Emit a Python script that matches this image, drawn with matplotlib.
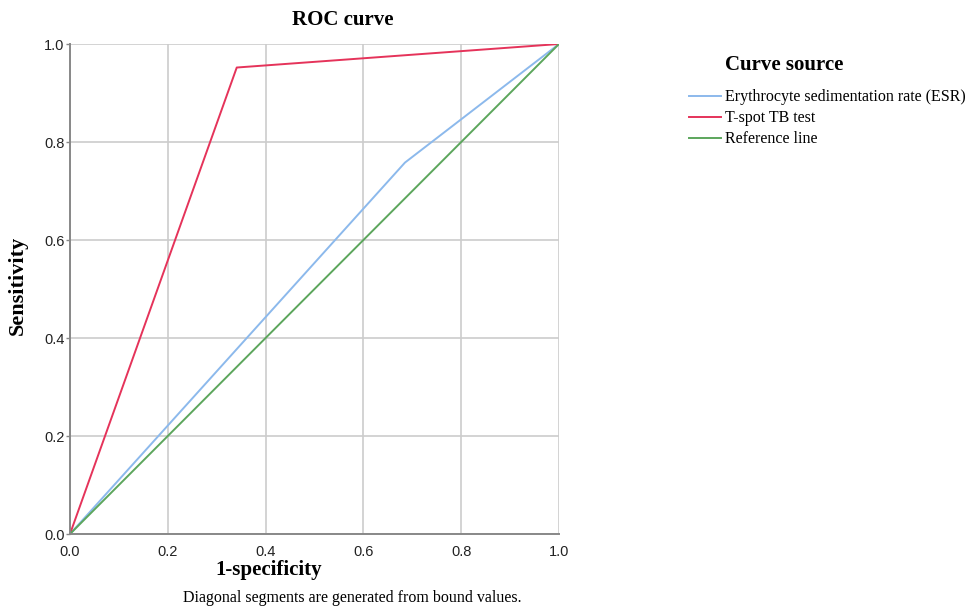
import matplotlib.pyplot as plt

# ROC curve points
esr_fpr = [0.0, 0.685, 1.0]
esr_tpr = [0.0, 0.758, 1.0]
tspot_fpr = [0.0, 0.341, 1.0]
tspot_tpr = [0.0, 0.952, 1.0]
ref_fpr = [0.0, 1.0]
ref_tpr = [0.0, 1.0]

labels = ["Erythrocyte sedimentation rate (ESR)", "T-spot TB test", "Reference line"]
colors = ["#8cb9ec", "#e5335a", "#5ca65c"]
ticks = [0.0, 0.2, 0.4, 0.6, 0.8, 1.0]

serif = "Liberation Serif"
sans = "Liberation Sans"

fig = plt.figure(figsize=(9.68, 6.07), dpi=100)
ax = fig.add_axes([70 / 968, 73 / 607, 489 / 968, 490 / 607])

ax.plot(esr_fpr, esr_tpr, color=colors[0], lw=1.4, label=labels[0])
ax.plot(tspot_fpr, tspot_tpr, color=colors[1], lw=1.4, label=labels[1])
ax.plot(ref_fpr, ref_tpr, color=colors[2], lw=1.4, label=labels[2])

ax.set_xlim(0, 1)
ax.set_ylim(0, 1)
ax.set_xticks(ticks)
ax.set_yticks(ticks)
ax.set_xticklabels([f"{t:.1f}" for t in ticks], fontfamily=sans, fontsize=10.5, color="#222222")
ax.set_yticklabels([f"{t:.1f}" for t in ticks], fontfamily=sans, fontsize=10.5, color="#222222")
ax.tick_params(axis="y", length=3, width=1, color="#888888", pad=1)
ax.tick_params(axis="x", length=0, pad=8)
ax.grid(True, color="#cccccc", lw=1.2)
ax.set_axisbelow(True)

for side in ["top", "right"]:
    ax.spines[side].set_visible(False)
for side in ["left", "bottom"]:
    ax.spines[side].set_color("#888888")
    ax.spines[side].set_linewidth(1.4)

fig.text(343 / 968, 1 - 20 / 607, "ROC curve", ha="center", va="center",
         fontfamily=serif, fontweight="bold", fontsize=15)
fig.text(18 / 968, 1 - 285 / 607, "Sensitivity", ha="center", va="center", rotation=90,
         fontfamily=serif, fontweight="bold", fontsize=16)
fig.text(269 / 968, 1 - 570 / 607, "1-specificity", ha="center", va="center",
         fontfamily=serif, fontweight="bold", fontsize=15)
fig.text(352 / 968, 1 - 598 / 607, "Diagonal segments are generated from bound values.",
         ha="center", va="center", fontfamily=serif, fontsize=11.5)

fig.text(725 / 968, 1 - 65 / 607, "Curve source", ha="left", va="center",
         fontfamily=serif, fontweight="bold", fontsize=15)
ax.legend(loc="upper left", bbox_to_anchor=(686 / 968, 1 - 86 / 607),
          bbox_transform=fig.transFigure, frameon=False,
          prop={"family": serif, "size": 11.5}, handlelength=2.0, handletextpad=0.25,
          labelspacing=0.32, borderaxespad=0, borderpad=0.2)

fig.savefig("out.png", dpi=100)
